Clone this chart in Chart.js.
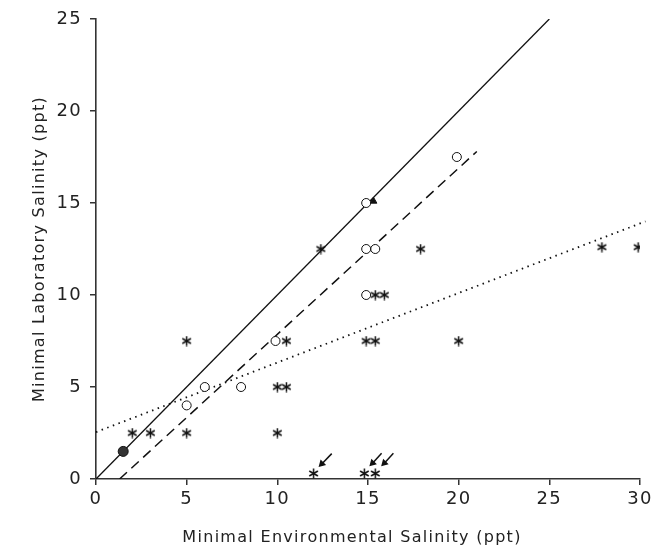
<!DOCTYPE html>
<html>
<head>
<meta charset="utf-8">
<script src="https://cdn.jsdelivr.net/npm/chart.js@4/dist/chart.umd.min.js"></script>
<style>
  body { margin: 0; background: #fff; }
  #caixa { width: 661px; height: 553px; }
</style>
</head>
<body>
<div id="caixa"><canvas id="grafico"></canvas></div>
<script>
// Asteriscos (*)
const asterX = [2, 3, 5, 5, 10, 10, 10.5, 10.5, 12.4, 15.4, 15.9, 14.9, 15.4, 17.9, 20, 27.9, 29.9, 12, 14.8, 15.4];
const asterY = [2.5, 2.5, 2.5, 7.5, 2.5, 5, 5, 7.5, 12.5, 10, 10, 7.5, 7.5, 12.5, 7.5, 12.6, 12.6, 0.3, 0.3, 0.3];

// Circulos abertos (o)
const circX = [5, 6, 8, 9.9, 14.9, 14.9, 15.4, 14.9, 19.9];
const circY = [4, 5, 5, 7.5, 10, 12.5, 12.5, 15, 17.5];

// Circulo cheio e triangulo
const cheioX = [1.5];
const cheioY = [1.5];
const triX = [15.3];
const triY = [15.1];

// Retas (inicio e fim)
const retaSolidaX = [0, 25];
const retaSolidaY = [0, 25];
const retaTracejadaX = [1.3, 21];
const retaTracejadaY = [0, 17.8];
const retaPontilhadaX = [0, 30.3];
const retaPontilhadaY = [2.55, 14.0];

// Setas (cauda -> ponta)
const setaCaudaX = [13.0, 15.75, 16.4];
const setaCaudaY = [1.38, 1.4, 1.4];
const setaPontaX = [12.45, 15.25, 15.9];
const setaPontaY = [0.82, 0.86, 0.86];

// Eixos
const ticksX = [0, 5, 10, 15, 20, 25, 30];
const ticksY = [0, 5, 10, 15, 20, 25];
const tituloX = 'Minimal Environmental Salinity (ppt)';
const tituloY = 'Minimal Laboratory Salinity (ppt)';

const pontos = (xs, ys) => xs.map((x, i) => ({ x, y: ys[i] }));

function asterisco(tam) {
  const c = document.createElement('canvas');
  c.width = tam; c.height = tam;
  const g = c.getContext('2d');
  g.strokeStyle = '#111';
  g.lineWidth = 1.5;
  g.translate(tam / 2, tam / 2);
  const r = tam / 2 - 0.5;
  for (let i = 0; i < 3; i++) {
    const a = Math.PI / 2 + i * Math.PI / 3;
    g.beginPath();
    g.moveTo(Math.cos(a) * r, Math.sin(a) * r);
    g.lineTo(-Math.cos(a) * r, -Math.sin(a) * r);
    g.stroke();
  }
  return c;
}
const iconeAster = asterisco(11);

const setas = setaCaudaX.map((x, i) => ({
  type: 'line',
  data: [{ x, y: setaCaudaY[i] }, { x: setaPontaX[i], y: setaPontaY[i] }],
  borderColor: '#111',
  borderWidth: 1.5,
  pointStyle: 'triangle',
  pointRadius: [0, 3],
  pointRotation: 225,
  pointBackgroundColor: '#111',
  pointBorderColor: '#111',
  showLine: true,
  order: 1
}));

const espacamento = {
  id: 'espacamento',
  beforeUpdate(chart) { chart.ctx.letterSpacing = '1.3px'; },
  beforeDraw(chart) { chart.ctx.letterSpacing = '1.3px'; }
};

const fonte = 'DejaVu Sans';
const corTexto = '#222';

new Chart(document.getElementById('grafico'), {
  type: 'scatter',
  data: {
    datasets: [
      {
        data: pontos(asterX, asterY),
        pointStyle: iconeAster,
        pointRadius: 5,
        order: 0
      },
      {
        data: pontos(circX, circY),
        pointStyle: 'circle',
        pointRadius: 4.5,
        pointBackgroundColor: '#fff',
        pointBorderColor: '#111',
        pointBorderWidth: 1,
        order: 0
      },
      {
        data: pontos(cheioX, cheioY),
        pointStyle: 'circle',
        pointRadius: 5,
        pointBackgroundColor: '#333',
        pointBorderColor: '#111',
        pointBorderWidth: 1,
        order: 0
      },
      {
        data: pontos(triX, triY),
        pointStyle: 'triangle',
        pointRadius: 4,
        pointBackgroundColor: '#111',
        pointBorderColor: '#111',
        order: 0
      },
      {
        type: 'line',
        data: pontos(retaSolidaX, retaSolidaY),
        borderColor: '#111',
        borderWidth: 1.3,
        pointRadius: 0,
        order: 2
      },
      {
        type: 'line',
        data: pontos(retaTracejadaX, retaTracejadaY),
        borderColor: '#111',
        borderWidth: 1.5,
        borderDash: [10, 6],
        pointRadius: 0,
        order: 2
      },
      {
        type: 'line',
        data: pontos(retaPontilhadaX, retaPontilhadaY),
        borderColor: '#111',
        borderWidth: 1.8,
        borderDash: [1.5, 4.5],
        pointRadius: 0,
        clip: false,
        order: 2
      },
      ...setas
    ]
  },
  options: {
    responsive: true,
    maintainAspectRatio: false,
    animation: false,
    layout: { padding: { left: 0, right: 21, top: 19, bottom: 0 } },
    plugins: { legend: { display: false }, tooltip: { enabled: false } },
    scales: {
      x: {
        type: 'linear',
        min: 0,
        max: 30,
        afterFit: s => { s.height = 74; },
        afterBuildTicks: s => { s.ticks = ticksX.map(v => ({ value: v })); },
        border: { display: true, color: '#333', width: 1.6 },
        grid: { drawOnChartArea: false, drawTicks: true, tickLength: 6, color: '#333', lineWidth: 1.5 },
        ticks: { color: corTexto, font: { family: fonte, size: 18 }, padding: 4 },
        title: {
          display: true,
          text: tituloX + '     ',
          color: corTexto,
          font: { family: fonte, size: 16 },
          padding: { top: 0, bottom: 6 }
        }
      },
      y: {
        type: 'linear',
        min: 0,
        max: 25,
        afterFit: s => { s.width = 96; },
        afterBuildTicks: s => { s.ticks = ticksY.map(v => ({ value: v })); },
        border: { display: true, color: '#333', width: 1.6 },
        grid: { drawOnChartArea: false, drawTicks: true, tickLength: 6, color: '#333', lineWidth: 1.5 },
        ticks: { color: corTexto, font: { family: fonte, size: 18 }, padding: 8 },
        title: {
          display: true,
          text: tituloY,
          color: corTexto,
          font: { family: fonte, size: 16 },
          padding: { top: 30, bottom: 0 }
        }
      }
    }
  },
  plugins: [espacamento]
});
</script>
</body>
</html>
